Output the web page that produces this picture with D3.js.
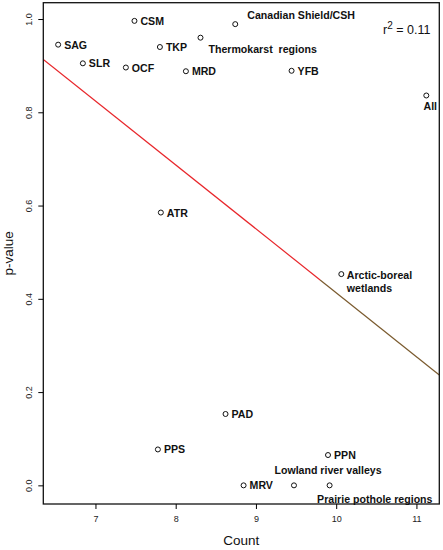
<!DOCTYPE html>
<html><head><meta charset="utf-8">
<script src="https://cdn.jsdelivr.net/npm/d3@7"></script>
<style>body{margin:0;background:#fff}svg{display:block;font-family:"Liberation Sans",Arial,sans-serif}</style>
</head><body>
<script>
const names = ["SAG","CSM","SLR","OCF","TKP","MRD","Thermokarst  regions","Canadian Shield/CSH","YFB","All","ATR","Arctic-boreal|wetlands","PAD","PPS","PPN","MRV","Lowland river valleys","Prairie pothole regions"];
const counts = [6.535,7.486,6.843,7.379,7.803,8.127,8.309,8.742,9.444,11.123,7.815,10.064,8.621,7.778,9.898,8.846,9.474,9.918];
const pvalues = [0.945,0.996,0.905,0.896,0.940,0.888,0.960,0.989,0.889,0.836,0.585,0.453,0.153,0.077,0.065,0.0,0.0,0.0];
const xTicks = [7,8,9,10,11];
const yTicks = [0.0,0.2,0.4,0.6,0.8,1.0];
const fitIntercept = 1.784, fitSlope = -0.1371, fitColorBreak = 9.80;
const r2Value = "0.11";

// label placement (px offsets from the point), kept separate from data
const labelPlace = {
  "Thermokarst  regions": {dx: 8, dy: 11.5},
  "Canadian Shield/CSH": {dx: 12, dy: -9.5},
  "All": {dx: 4, dy: 11, anchor: "middle"},
  "Lowland river valleys": {dx: -19.5, dy: -15.5},
  "Prairie pothole regions": {dx: -12.5, dy: 13.5},
  "Arctic-boreal|wetlands": {dx: 5.5, dy: 0.7}
};

const W = 443, H = 550;
const m = {l: 43.3, r: 439.3, t: 2.7, b: 504};
const x = d3.scaleLinear().domain([6.35, 11.285]).range([m.l, m.r]);
const y = d3.scaleLinear().domain([-0.04, 1.035]).range([m.b, m.t]);

const svg = d3.select("body").append("svg").attr("width", W).attr("height", H);

// regression line (clipped to plot box)
svg.append("clipPath").attr("id","clip").append("rect")
  .attr("x", m.l).attr("y", m.t).attr("width", m.r-m.l).attr("height", m.b-m.t);
const fit = v => fitIntercept + fitSlope * v;
const g = svg.append("g").attr("clip-path","url(#clip)");
const x0 = x.domain()[0], x1 = x.domain()[1];
g.append("line").attr("x1", x(x0)).attr("y1", y(fit(x0))).attr("x2", x(fitColorBreak)).attr("y2", y(fit(fitColorBreak)))
  .attr("stroke", "#e8262b").attr("stroke-width", 1.2);
g.append("line").attr("x1", x(fitColorBreak)).attr("y1", y(fit(fitColorBreak))).attr("x2", x(x1)).attr("y2", y(fit(x1)))
  .attr("stroke", "#7a5a2e").attr("stroke-width", 1.2);

// box
svg.append("rect").attr("x", m.l).attr("y", m.t).attr("width", m.r-m.l).attr("height", m.b-m.t)
  .attr("fill","none").attr("stroke","#111").attr("stroke-width",1.3);

// axes
const xAxis = d3.axisBottom(x).tickValues(xTicks).tickSize(5).tickPadding(7).tickFormat(d3.format("d"));
const xa = svg.append("g").attr("transform", `translate(0,${m.b})`).call(xAxis);
xa.select(".domain").remove();
xa.selectAll("text").attr("font-size", 9).attr("fill","#222").attr("font-family",'"Liberation Sans",Arial,sans-serif');

const yAxis = d3.axisLeft(y).tickValues(yTicks).tickSize(5).tickFormat(d3.format(".1f"));
const ya = svg.append("g").attr("transform", `translate(${m.l},0)`).call(yAxis);
ya.select(".domain").remove();
ya.selectAll("text").attr("font-size", 9).attr("fill","#222").attr("font-family",'"Liberation Sans",Arial,sans-serif')
  .attr("x", null).attr("dy", null).attr("text-anchor","middle")
  .attr("transform", "translate(-14,0) rotate(-90)").attr("dominant-baseline","central");

svg.append("text").attr("x", (m.l+m.r)/2).attr("y", 545).attr("text-anchor","middle")
  .attr("font-size", 13.5).attr("fill","#111").text("Count");
svg.append("text").attr("transform", `translate(13,${(m.t+m.b)/2}) rotate(-90)`).attr("text-anchor","middle")
  .attr("font-size", 13.5).attr("fill","#111").text("p-value");

// r^2
const rt = svg.append("text").attr("x", 383).attr("y", 34).attr("font-size", 12.5).attr("fill","#111");
rt.append("tspan").text("r");
rt.append("tspan").attr("dy", -5).attr("font-size", 10).text("2");
rt.append("tspan").attr("dy", 5).text(" = " + r2Value);

// points
const pts = names.map((n,i) => ({name: n, c: counts[i], p: pvalues[i]}));
svg.selectAll("circle.pt").data(pts).join("circle").attr("class","pt")
  .attr("cx", d => x(d.c)).attr("cy", d => y(d.p)).attr("r", 2.5)
  .attr("fill","none").attr("stroke","#111").attr("stroke-width",1);

// labels
pts.forEach(d => {
  const lp = labelPlace[d.name] || {dx: 6, dy: 0};
  const t = svg.append("text").attr("x", x(d.c) + lp.dx).attr("y", y(d.p) + lp.dy)
    .attr("font-size", 10.6).attr("font-weight","bold").attr("fill","#111")
    .attr("text-anchor", lp.anchor || "start").attr("dominant-baseline","central")
    .attr("xml:space","preserve").style("white-space","pre");
  const lines = d.name.split("|");
  lines.forEach((ln, i) => {
    t.append("tspan").attr("x", x(d.c) + lp.dx).attr("dy", i === 0 ? 0 : 13).text(ln);
  });
});
</script>
</body></html>
